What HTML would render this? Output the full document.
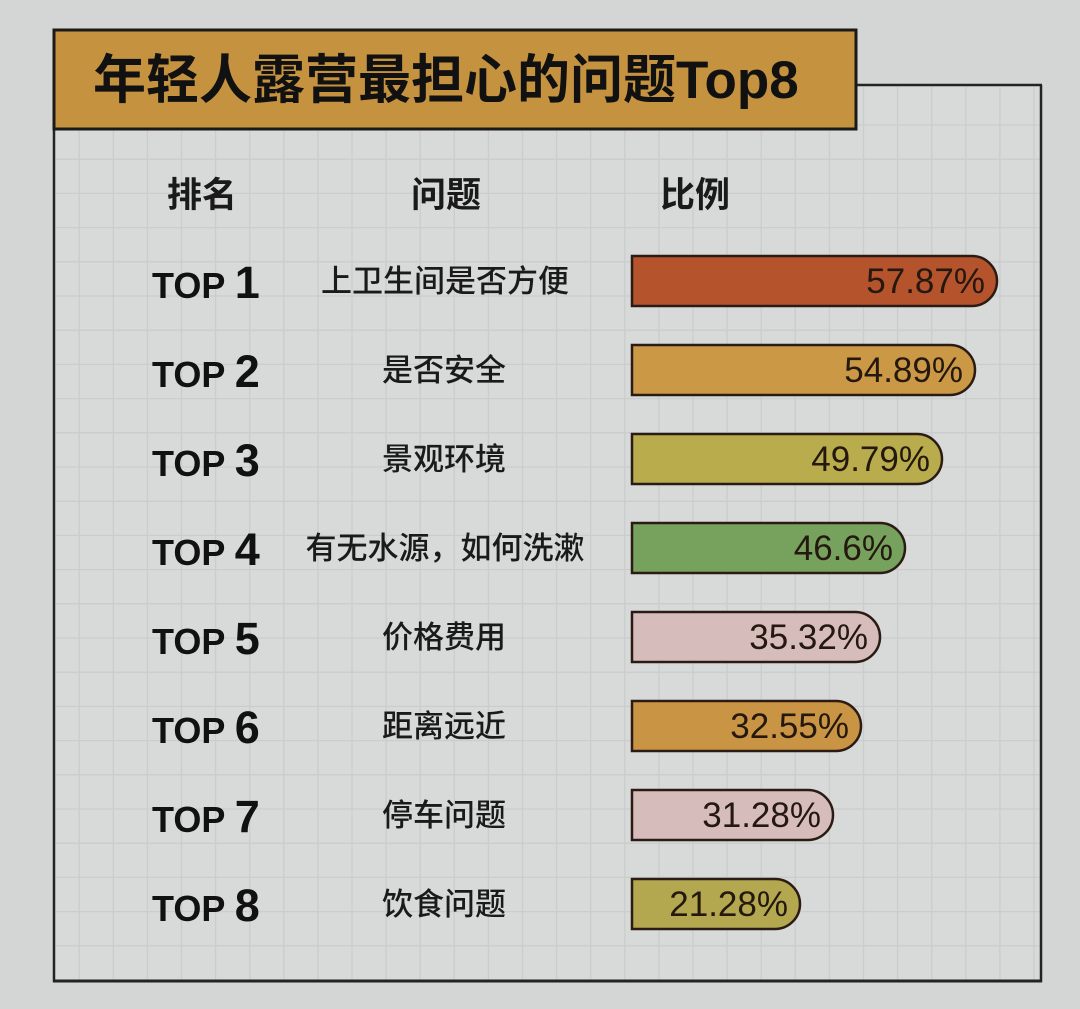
<!DOCTYPE html>
<html><head><meta charset="utf-8"><style>
html,body{margin:0;padding:0;background:#d4d5d5;}
svg{display:block;}
</style></head><body>
<svg width="1080" height="1009" viewBox="0 0 1080 1009" xmlns="http://www.w3.org/2000/svg">
<rect x="0" y="0" width="1080" height="1009" fill="#d4d5d5"/>
<rect x="54" y="85" width="987" height="896" fill="#d8d9d9"/>
<rect x="54" y="29" width="803" height="100" fill="#d8d9d9"/>
<g stroke="#cbcdcd" stroke-width="1.3">
<line x1="79.2" y1="87" x2="79.2" y2="980"/><line x1="113.3" y1="87" x2="113.3" y2="980"/><line x1="147.4" y1="87" x2="147.4" y2="980"/><line x1="181.5" y1="87" x2="181.5" y2="980"/><line x1="215.6" y1="87" x2="215.6" y2="980"/><line x1="249.7" y1="87" x2="249.7" y2="980"/><line x1="283.8" y1="87" x2="283.8" y2="980"/><line x1="317.9" y1="87" x2="317.9" y2="980"/><line x1="352" y1="87" x2="352" y2="980"/><line x1="386.1" y1="87" x2="386.1" y2="980"/><line x1="420.2" y1="87" x2="420.2" y2="980"/><line x1="454.3" y1="87" x2="454.3" y2="980"/><line x1="488.4" y1="87" x2="488.4" y2="980"/><line x1="522.5" y1="87" x2="522.5" y2="980"/><line x1="556.6" y1="87" x2="556.6" y2="980"/><line x1="590.7" y1="87" x2="590.7" y2="980"/><line x1="624.8" y1="87" x2="624.8" y2="980"/><line x1="658.9" y1="87" x2="658.9" y2="980"/><line x1="693" y1="87" x2="693" y2="980"/><line x1="727.1" y1="87" x2="727.1" y2="980"/><line x1="761.2" y1="87" x2="761.2" y2="980"/><line x1="795.3" y1="87" x2="795.3" y2="980"/><line x1="829.4" y1="87" x2="829.4" y2="980"/><line x1="863.5" y1="87" x2="863.5" y2="980"/><line x1="897.6" y1="87" x2="897.6" y2="980"/><line x1="931.7" y1="87" x2="931.7" y2="980"/><line x1="965.8" y1="87" x2="965.8" y2="980"/><line x1="999.9" y1="87" x2="999.9" y2="980"/><line x1="1034" y1="87" x2="1034" y2="980"/>
<line x1="56" y1="125" x2="1040" y2="125"/><line x1="56" y1="159.2" x2="1040" y2="159.2"/><line x1="56" y1="193.4" x2="1040" y2="193.4"/><line x1="56" y1="227.6" x2="1040" y2="227.6"/><line x1="56" y1="261.8" x2="1040" y2="261.8"/><line x1="56" y1="296" x2="1040" y2="296"/><line x1="56" y1="330.2" x2="1040" y2="330.2"/><line x1="56" y1="364.4" x2="1040" y2="364.4"/><line x1="56" y1="398.6" x2="1040" y2="398.6"/><line x1="56" y1="432.8" x2="1040" y2="432.8"/><line x1="56" y1="467" x2="1040" y2="467"/><line x1="56" y1="501.2" x2="1040" y2="501.2"/><line x1="56" y1="535.4" x2="1040" y2="535.4"/><line x1="56" y1="569.6" x2="1040" y2="569.6"/><line x1="56" y1="603.8" x2="1040" y2="603.8"/><line x1="56" y1="638" x2="1040" y2="638"/><line x1="56" y1="672.2" x2="1040" y2="672.2"/><line x1="56" y1="706.4" x2="1040" y2="706.4"/><line x1="56" y1="740.6" x2="1040" y2="740.6"/><line x1="56" y1="774.8" x2="1040" y2="774.8"/><line x1="56" y1="809" x2="1040" y2="809"/><line x1="56" y1="843.2" x2="1040" y2="843.2"/><line x1="56" y1="877.4" x2="1040" y2="877.4"/><line x1="56" y1="911.6" x2="1040" y2="911.6"/><line x1="56" y1="945.8" x2="1040" y2="945.8"/>
</g>
<!-- frame -->
<g stroke="#232323" fill="none">
<line x1="1041" y1="85" x2="1041" y2="982" stroke-width="2.5"/>
<line x1="856" y1="85" x2="1042" y2="85" stroke-width="2.5"/>
<line x1="54" y1="29" x2="54" y2="982" stroke-width="2.5"/>
<line x1="53" y1="981" x2="1042" y2="981" stroke-width="3"/>
</g>
<rect x="54" y="30" width="802" height="99" fill="#c5923f" stroke="#1c1a18" stroke-width="3"/>
<text x="93" y="98" font-family="'Liberation Sans','Noto Sans CJK SC',sans-serif" font-weight="bold" font-size="53" fill="#111">年轻人露营最担心的问题Top8</text>
<!-- headers -->
<g font-family="'Liberation Sans','Noto Sans CJK SC',sans-serif" font-weight="bold" font-size="35" fill="#1a1a1a" text-anchor="middle">
<text x="202" y="207">排名</text>
<text x="446" y="207">问题</text>
<text x="695" y="207">比例</text>
</g>
<!-- TOP labels -->
<g font-family="'Liberation Sans',sans-serif" font-weight="bold" fill="#111">
<text x="152" y="298"><tspan font-size="36">TOP </tspan><tspan font-size="45">1</tspan></text>
<text x="152" y="387"><tspan font-size="36">TOP </tspan><tspan font-size="45">2</tspan></text>
<text x="152" y="476"><tspan font-size="36">TOP </tspan><tspan font-size="45">3</tspan></text>
<text x="152" y="565"><tspan font-size="36">TOP </tspan><tspan font-size="45">4</tspan></text>
<text x="152" y="654"><tspan font-size="36">TOP </tspan><tspan font-size="45">5</tspan></text>
<text x="152" y="743"><tspan font-size="36">TOP </tspan><tspan font-size="45">6</tspan></text>
<text x="152" y="832"><tspan font-size="36">TOP </tspan><tspan font-size="45">7</tspan></text>
<text x="152" y="921"><tspan font-size="36">TOP </tspan><tspan font-size="45">8</tspan></text>
</g>
<!-- question labels -->
<g font-family="'Liberation Sans','Noto Sans CJK SC',sans-serif" font-weight="500" font-size="31" fill="#1a1a1a" text-anchor="middle">
<text x="445" y="292">上卫生间是否方便</text>
<text x="444" y="381">是否安全</text>
<text x="444" y="470">景观环境</text>
<text x="445" y="559">有无水源，如何洗漱</text>
<text x="444" y="648">价格费用</text>
<text x="444" y="737">距离远近</text>
<text x="444" y="826">停车问题</text>
<text x="444" y="915">饮食问题</text>
</g>
<!-- bars -->
<g stroke="#2a1c14" stroke-width="2.5">
<path d="M632,256 H972 A25,25 0 0 1 972,306 H632 Z" fill="#b4532c"/>
<path d="M632,345 H950 A25,25 0 0 1 950,395 H632 Z" fill="#cb9846"/>
<path d="M632,434 H917 A25,25 0 0 1 917,484 H632 Z" fill="#b8ac4c"/>
<path d="M632,523 H880 A25,25 0 0 1 880,573 H632 Z" fill="#76a25e"/>
<path d="M632,612 H855 A25,25 0 0 1 855,662 H632 Z" fill="#d6bdbc"/>
<path d="M632,701 H836 A25,25 0 0 1 836,751 H632 Z" fill="#c99443"/>
<path d="M632,790 H808 A25,25 0 0 1 808,840 H632 Z" fill="#d6bdbc"/>
<path d="M632,879 H775 A25,25 0 0 1 775,929 H632 Z" fill="#b3a84f"/>
</g>
<g font-family="'Liberation Sans',sans-serif" font-size="35" fill="#24180f" text-anchor="end">
<text x="985" y="293">57.87%</text>
<text x="963" y="382">54.89%</text>
<text x="930" y="471">49.79%</text>
<text x="893" y="560">46.6%</text>
<text x="868" y="649">35.32%</text>
<text x="849" y="738">32.55%</text>
<text x="821" y="827">31.28%</text>
<text x="788" y="916">21.28%</text>
</g>
</svg>
</body></html>
